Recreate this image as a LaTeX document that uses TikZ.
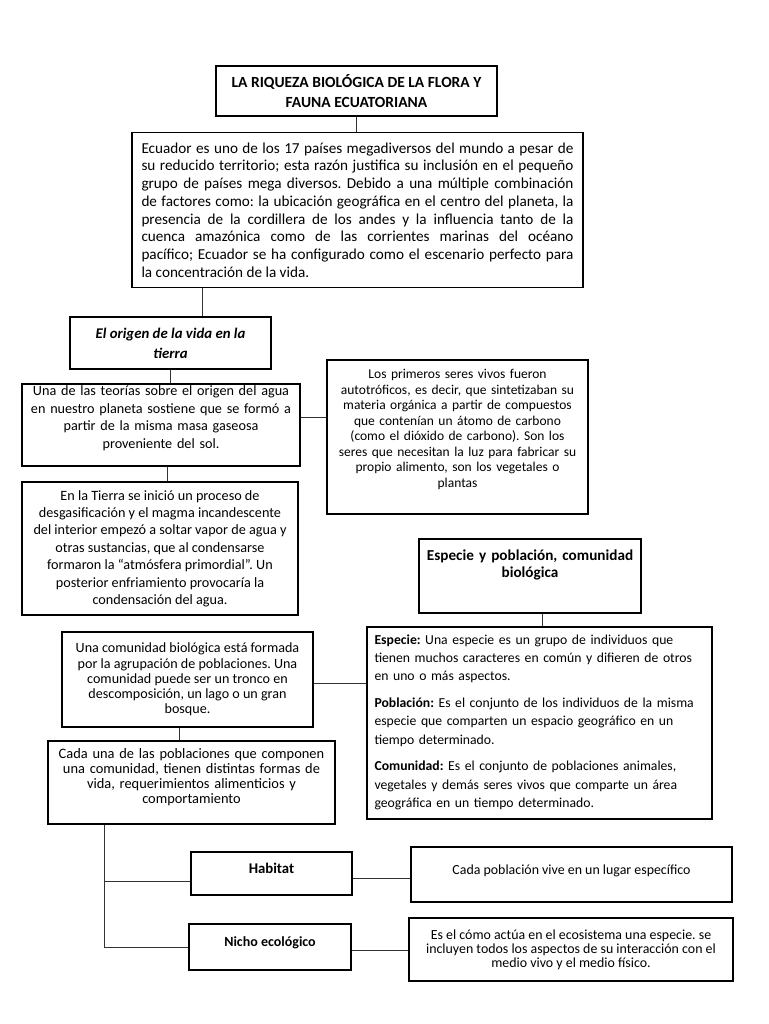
\documentclass[tikz,border=0pt]{standalone}
\usepackage{fontspec}
\setmainfont{Carlito}
\usepackage{tikz}
\usetikzlibrary{calc}
\frenchspacing

\begin{document}
\begin{tikzpicture}[x=1pt, y=-1pt,
    box/.style={draw, line width=1.1pt, inner sep=0pt, align=center},
    heavy/.style={box, line width=1.6pt},
    wh/.style 2 args={minimum width=#1pt, minimum height=#2pt},
    conn/.style={line width=0.8pt, black!80},
]
    \useasboundingbox (0,0) rectangle (768,1024);

    % Titulo y texto inicial
    \node[heavy, wh={281}{50}, font=\fontsize{15.5}{19.3}\selectfont\bfseries] (titulo) at (356.5,91)
        {LA RIQUEZA BIOLÓGICA DE LA FLORA Y\\FAUNA ECUATORIANA};
    \node[box, wh={451}{155}, text width=432pt, align=justify,
          font=\fontsize{15.2}{17.7}\selectfont] (intro) at (357.5,210)
        {Ecuador es uno de los 17 países megadiversos del mundo a pesar de\linebreak
         su reducido territorio; esta razón justifica su inclusión en el pequeño\linebreak
         grupo de países mega diversos. Debido a una múltiple combinación\linebreak
         de factores como: la ubicación geográfica en el centro del planeta, la\linebreak
         presencia de la cordillera de los andes y la influencia tanto de la\linebreak
         cuenca amazónica como de las corrientes marinas del océano\linebreak
         pacífico; Ecuador se ha configurado como el escenario perfecto para\linebreak
         la concentración de la vida.};

    % El origen de la vida
    \node[heavy, wh={201}{52}, font=\fontsize{14.8}{20}\selectfont\bfseries\itshape] (origen) at (170.5,343)
        {El origen de la vida en la\\tierra};
    \node[box, minimum width=278pt, text width=270pt, text height=11.5pt, text depth=70.5pt,
          font=\fontsize{14.2}{17.6}\selectfont] (teoria) at (161,425)
        {Una de las teorías sobre el origen del agua\\en nuestro planeta sostiene que se formó a\\
         partir de la misma masa gaseosa\\proveniente del sol.};
    \node[box, wh={276}{133}, font=\fontsize{14.2}{17.4}\selectfont] (desgas) at (160,548.5)
        {En la Tierra se inició un proceso de\\desgasificación y el magma incandescente\\
         del interior empezó a soltar vapor de agua y\\otras sustancias, que al condensarse\\
         formaron la “atmósfera primordial”. Un\\posterior enfriamiento provocaría la\\
         condensación del agua.};
    \node[box, minimum width=261pt, text width=252pt, text height=18.5pt, text depth=135.5pt,
          font=\fontsize{13.5}{15.5}\selectfont] (autotrof) at (457.5,437)
        {Los primeros seres vivos fueron\\autotróficos, es decir, que sintetizaban su\\
         materia orgánica a partir de compuestos\\que contenían un átomo de carbono\\
         (como el dióxido de carbono). Son los\\seres que necesitan la luz para fabricar su\\
         propio alimento, son los vegetales o\\plantas};

    % Especie, poblacion y comunidad
    \node[heavy, minimum width=222pt, text width=214pt, text height=21.5pt, text depth=52.5pt,
          font=\fontsize{15.2}{17.3}\selectfont\bfseries] (especie) at (530,576)
        {Especie y población, comunidad\\biológica};
    \node[box, inner xsep=7.5pt, text width=330pt, align=left, text height=17pt, text depth=175pt,
          font=\fontsize{13.7}{18.3}\selectfont] (detalle) at (539.5,723)
        {\textbf{Especie:} Una especie es un grupo de individuos que\\
         tienen muchos caracteres en común y difieren de otros\\
         en uno o más aspectos.\\[8.5pt]
         \textbf{Población:} Es el conjunto de los individuos de la misma\\
         especie que comparten un espacio geográfico en un\\
         tiempo determinado.\\[8.5pt]
         \textbf{Comunidad:} Es el conjunto de poblaciones animales,\\
         vegetales y demás seres vivos que comparte un área\\
         geográfica en un tiempo determinado.};
    \node[box, wh={251}{95}, font=\fontsize{14.1}{15.25}\selectfont] (comunidad) at (187.5,679.5)
        {Una comunidad biológica está formada\\por la agrupación de poblaciones. Una\\
         comunidad puede ser un tronco en\\descomposición, un lago o un gran\\bosque.};
    \node[box, minimum width=287pt, text width=284pt, text height=17.5pt, text depth=65.5pt,
          font=\fontsize{14.4}{15}\selectfont] (cadauna) at (191.5,782.5)
        {Cada una de las poblaciones que componen\\una comunidad, tienen distintas formas de\\
         vida, requerimientos alimenticios y\\comportamiento};

    % Habitat y nicho
    \node[heavy, minimum width=161pt, text height=21pt, text depth=22pt,
          font=\fontsize{14.8}{17}\selectfont\bfseries] (habitat) at (271.5,873.5) {Habitat};
    \node[box, minimum width=162pt, text height=22.6pt, text depth=23.4pt,
          font=\fontsize{14}{17}\selectfont\bfseries] (nicho) at (270,947) {Nicho ecológico};
    \node[box, minimum width=321pt, text height=27pt, text depth=28pt,
          font=\fontsize{13.9}{15}\selectfont] (hdesc) at (571.5,874.5)
        {Cada población vive en un lugar específico};
    \node[box, wh={324}{63}, font=\fontsize{13.9}{14.2}\selectfont] (ndesc) at (571,949.5)
        {Es el cómo actúa en el ecosistema una especie. se\\
         incluyen todos los aspectos de su interacción con el\\medio vivo y el medio físico.};

    % Conectores
    \draw[conn] (titulo.south) -- (titulo.south |- intro.north);
    \coordinate (c1) at ($(origen.north)+(31.5,0)$);
    \draw[conn] (c1 |- intro.south) -- (c1);
    \draw[conn] (origen.south) -- (origen.south |- teoria.north);
    \coordinate (c2) at ($(teoria.south)+(6,0)$);
    \draw[conn] (c2) -- (c2 |- desgas.north);
    \coordinate (c3) at ($(teoria.east)+(0,-8)$);
    \draw[conn] (c3) -- (c3 -| autotrof.west);
    \coordinate (c4) at ($(especie.south)+(12,0)$);
    \draw[conn] (c4) -- (c4 |- detalle.north);
    \coordinate (c5) at ($(comunidad.east)+(0,3.5)$);
    \draw[conn] (c5) -- (c5 -| detalle.west);
    \coordinate (c6) at ($(comunidad.south)+(-8.5,0)$);
    \draw[conn] (c6) -- (c6 |- cadauna.north);
    \coordinate (c7) at ($(cadauna.south west)+(57,0)$);
    \draw[conn] (c7) -- (c7 |- nicho.west) -- (nicho.west);
    \coordinate (c8) at ($(habitat.west)+(0,7.5)$);
    \draw[conn] (c8 -| c7) -- (c8);
    \coordinate (c9) at ($(habitat.east)+(0,4.5)$);
    \draw[conn] (c9) -- (c9 -| hdesc.west);
    \coordinate (c10) at ($(nicho.east)+(0,3)$);
    \draw[conn] (c10) -- (c10 -| ndesc.west);
\end{tikzpicture}
\end{document}
